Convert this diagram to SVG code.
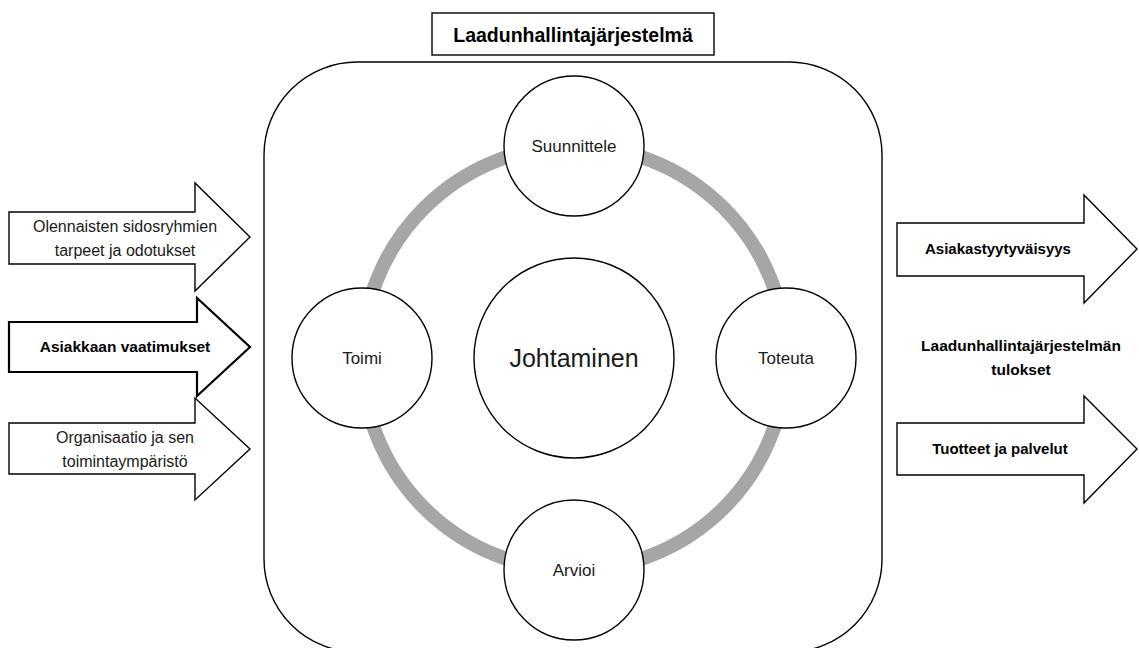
<svg xmlns="http://www.w3.org/2000/svg" width="1139" height="648" viewBox="0 0 1139 648">
<style>
.ln{fill:#fff;stroke:#000;stroke-width:1.4}
.bold{stroke-width:2.2}
.t{font-family:"Liberation Sans",Arial,sans-serif;fill:#1a1a1a;text-anchor:middle}
.b{font-weight:bold;fill:#000}
</style>
<rect width="1139" height="648" fill="#fff"/>
<g id="title">
<rect class="ln" x="432" y="13" width="282" height="42"/>
<text class="t b" x="573" y="42" font-size="19.5">Laadunhallintajärjestelmä</text>
</g>
<g id="system">
<rect class="ln" x="264" y="62" width="618" height="590" rx="93" ry="93"/>
</g>
<g id="connectors">
<circle cx="574" cy="358" r="212" fill="none" stroke="#a6a6a6" stroke-width="14"/>
</g>
<g id="johtaminen">
<circle class="ln" cx="574" cy="358" r="100"/>
<text class="t" x="574" y="367" font-size="25">Johtaminen</text>
</g>
<g id="suunnittele">
<circle class="ln" cx="574" cy="146" r="70"/>
<text class="t" x="574" y="152" font-size="17">Suunnittele</text>
</g>
<g id="toteuta">
<circle class="ln" cx="786" cy="358" r="70"/>
<text class="t" x="786" y="364" font-size="17">Toteuta</text>
</g>
<g id="arvioi">
<circle class="ln" cx="574" cy="570" r="70"/>
<text class="t" x="574" y="576" font-size="17">Arvioi</text>
</g>
<g id="toimi">
<circle class="ln" cx="362" cy="358" r="70"/>
<text class="t" x="362" y="364" font-size="17">Toimi</text>
</g>
<g id="in-sidosryhmat">
<polygon class="ln" points="9,212 195,212 195,183 250,237 195,291 195,264 9,264"/>
<text class="t" x="125" y="232" font-size="16">Olennaisten sidosryhmien</text>
<text class="t" x="125" y="256" font-size="16">tarpeet ja odotukset</text>
</g>
<g id="in-asiakas">
<polygon class="ln bold" points="9,322 197,322 197,298 250,347 197,396 197,372 9,372"/>
<text class="t b" x="125" y="352" font-size="15.5">Asiakkaan vaatimukset</text>
</g>
<g id="in-organisaatio">
<polygon class="ln" points="9,423 195,423 195,398 250,449 195,500 195,474 9,474"/>
<text class="t" x="125" y="443" font-size="16">Organisaatio ja sen</text>
<text class="t" x="125" y="467" font-size="16">toimintaympäristö</text>
</g>
<g id="out-asiakastyytyvaisyys">
<polygon class="ln" points="897,223 1084,223 1084,195 1137,249 1084,303 1084,276 897,276"/>
<text class="t b" x="998" y="254" font-size="15">Asiakastyytyväisyys</text>
</g>
<g id="tulokset">
<text class="t b" x="1021" y="351" font-size="15.5">Laadunhallintajärjestelmän</text>
<text class="t b" x="1021" y="375" font-size="15.5">tulokset</text>
</g>
<g id="out-tuotteet">
<polygon class="ln" points="897,423 1084,423 1084,396 1137,449 1084,503 1084,475 897,475"/>
<text class="t b" x="1000" y="454" font-size="15">Tuotteet ja palvelut</text>
</g>
</svg>
